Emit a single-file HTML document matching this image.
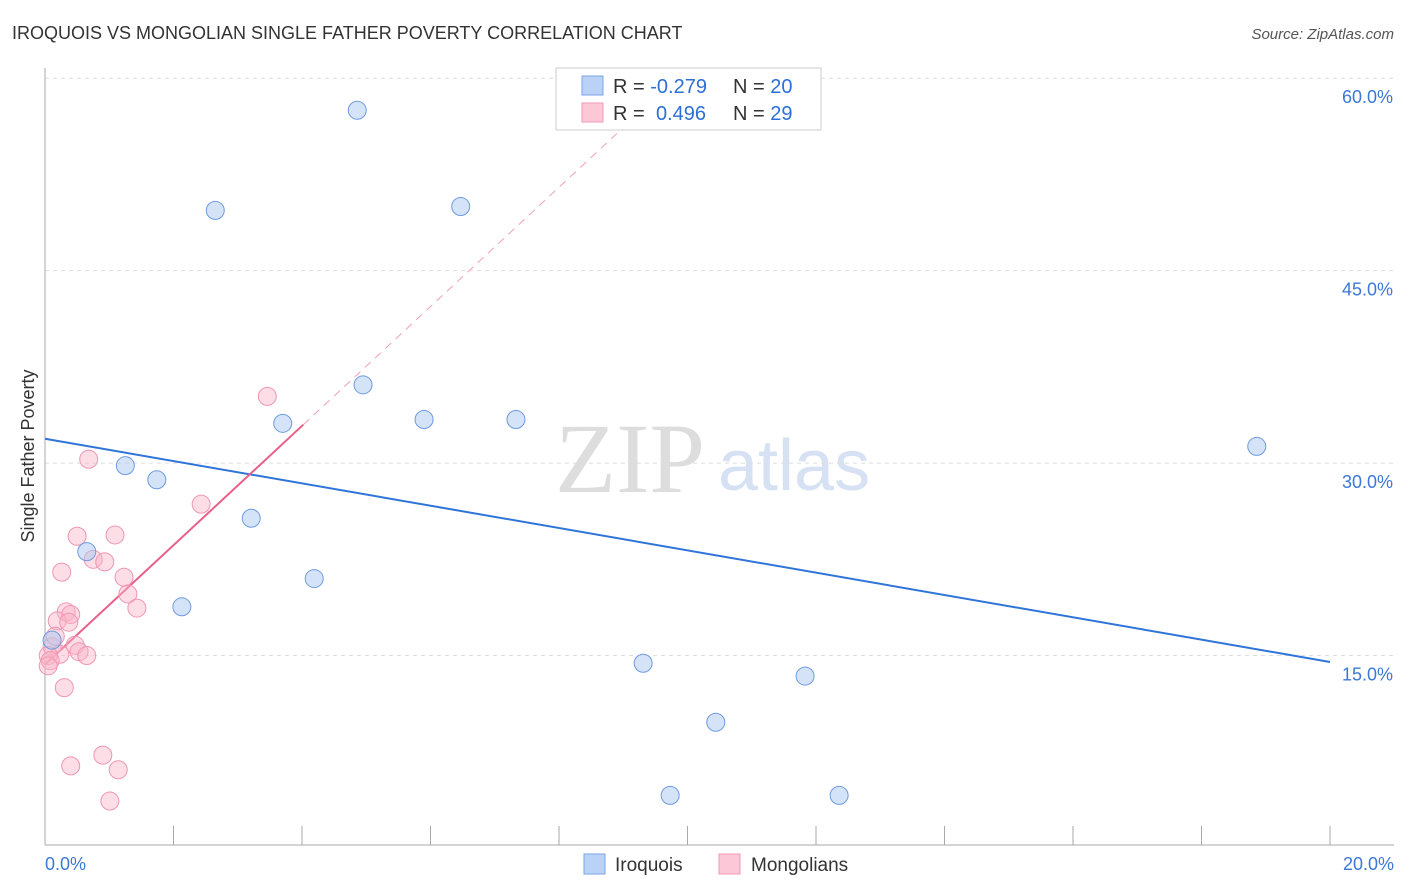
<!DOCTYPE html>
<html><head><meta charset="utf-8">
<style>
body{margin:0;background:#fff;font-family:"Liberation Sans",sans-serif;}
svg{display:block}
</style></head>
<body>
<svg id="chart" width="1406" height="892">
<text x="12" y="39" font-size="18" fill="#333">IROQUOIS VS MONGOLIAN SINGLE FATHER POVERTY CORRELATION CHART</text>
<text x="1394" y="39" font-size="15" fill="#555" text-anchor="end" font-style="italic">Source: ZipAtlas.com</text>
<text transform="translate(34,456) rotate(-90)" font-size="18" fill="#333" text-anchor="middle">Single Father Poverty</text>
<text x="555" y="492" font-size="100" fill="#ddd" font-family="Liberation Serif,serif">ZIP</text>
<text x="718" y="490" font-size="72" fill="#d6e2f4">atlas</text>
<g id="grid"></g><g id="axes"></g><g id="lines"></g><g id="pts"></g>
<g>
<rect x="556" y="68" width="265" height="62" fill="#fff" stroke="#ccc"/>
<rect x="582" y="76" width="21" height="19" fill="#b9d2f5" stroke="#7aa5e6"/>
<rect x="582" y="103" width="21" height="19" fill="#fcc8d8" stroke="#f19ab5"/>
<text x="613" y="93" font-size="20" fill="#333">R = <tspan fill="#2c6fd6">-0.279</tspan><tspan x="733">N = </tspan><tspan fill="#2c6fd6">20</tspan></text>
<text x="613" y="120" font-size="20" fill="#333">R = <tspan x="656" fill="#2c6fd6">0.496</tspan><tspan x="733">N = </tspan><tspan fill="#2c6fd6">29</tspan></text>
</g>
<g>
<rect x="584" y="854" width="21" height="20" fill="#b9d2f5" stroke="#7aa5e6"/>
<text x="615" y="871" font-size="19" fill="#333">Iroquois</text>
<rect x="719" y="854" width="21" height="20" fill="#fcc8d8" stroke="#f19ab5"/>
<text x="751" y="871" font-size="19" fill="#333">Mongolians</text>
</g>
</svg>
<script>
const yTicks=[15,30,45,60];
const yTickLabels=["15.0%","30.0%","45.0%","60.0%"];
const xTickLabels=["0.0%","20.0%"];
const iroX=[4.86,2.65,6.47,4.95,3.70,5.90,7.33,18.86,1.25,1.74,3.21,0.65,4.19,2.13,0.11,9.31,11.83,10.44,9.73,12.36];
const iroY=[57.5,49.7,50.0,36.1,33.1,33.4,33.4,31.3,29.8,28.7,25.7,23.1,21.0,18.8,16.2,14.4,13.4,9.8,4.1,4.1];
const monX=[3.46,0.68,2.43,0.50,1.09,0.75,0.93,0.26,1.23,1.29,1.43,0.33,0.40,0.19,0.37,0.47,0.11,0.53,0.65,0.23,0.05,0.08,0.05,0.30,0.90,0.40,1.14,1.01,0.16];
const monY=[35.2,30.3,26.8,24.3,24.4,22.5,22.3,21.5,21.1,19.8,18.7,18.4,18.2,17.7,17.6,15.8,15.7,15.3,15.0,15.1,15.0,14.6,14.2,12.5,7.24,6.4,6.1,3.66,16.5];
const iroLine=[31.9,14.5];
const monLine=[14.3,4.65];
const NS="http://www.w3.org/2000/svg";
const X=v=>45+v*64.25, Y=v=>848-v*12.83;
function mk(tag,attrs,parent){const e=document.createElementNS(NS,tag);for(const k in attrs)e.setAttribute(k,attrs[k]);document.getElementById(parent).appendChild(e);return e;}
yTicks.forEach((t,i)=>{
 const g=mk('line',{x1:45,x2:1394,y1:Y(t),y2:Y(t),stroke:'#ddd','stroke-dasharray':'4,4'},'grid');
 
 
 const l=mk('text',{x:1393,y:Y(t)+25,'font-size':18,fill:'#3b78d8','text-anchor':'end'},'grid');
 l.textContent=yTickLabels[i];
 
 
});
const ax=mk('line',{x1:45,x2:1394,y1:845,y2:845,stroke:'#aaa'},'axes');


const ay=mk('line',{x1:45,x2:45,y1:68,y2:845,stroke:'#aaa'},'axes');


for(let v=0;v<=20;v+=2){
 const t=mk('line',{x1:X(v),x2:X(v),y1:826,y2:845,stroke:'#aaa'},'axes');
 
 
}
[[0,'start',45],[20,'end',1394]].forEach((a,i)=>{
 const l=mk('text',{x:a[2],y:870,'font-size':18,fill:'#3b78d8','text-anchor':a[1]},'axes');
 l.textContent=xTickLabels[i];
 
 
});
const bl=mk('line',{x1:X(0),y1:Y(iroLine[0]),x2:X(20),y2:Y(iroLine[1]),stroke:'#2f74d8','stroke-width':2},'lines');


const xs=4.02, xe=(60-monLine[0])/monLine[1];
const pd=mk('line',{x1:X(xs),y1:Y(monLine[0]+monLine[1]*xs),x2:X(xe),y2:Y(60),stroke:'#f0a0b8','stroke-width':1,'stroke-dasharray':'8,6'},'lines');


const pl=mk('line',{x1:X(0),y1:Y(monLine[0]),x2:X(xs),y2:Y(monLine[0]+monLine[1]*xs),stroke:'#e8608a','stroke-width':2},'lines');


monX.forEach((x,i)=>{
 const c=mk('circle',{cx:X(x),cy:Y(monY[i]),r:9,fill:'rgba(250,180,200,0.45)',stroke:'#f096b2','stroke-width':1},'pts');
 
 
});
iroX.forEach((x,i)=>{
 const c=mk('circle',{cx:X(x),cy:Y(iroY[i]),r:9,fill:'rgba(170,200,240,0.5)',stroke:'#6f9be0','stroke-width':1},'pts');
 
 
});
</script>
</body></html>
